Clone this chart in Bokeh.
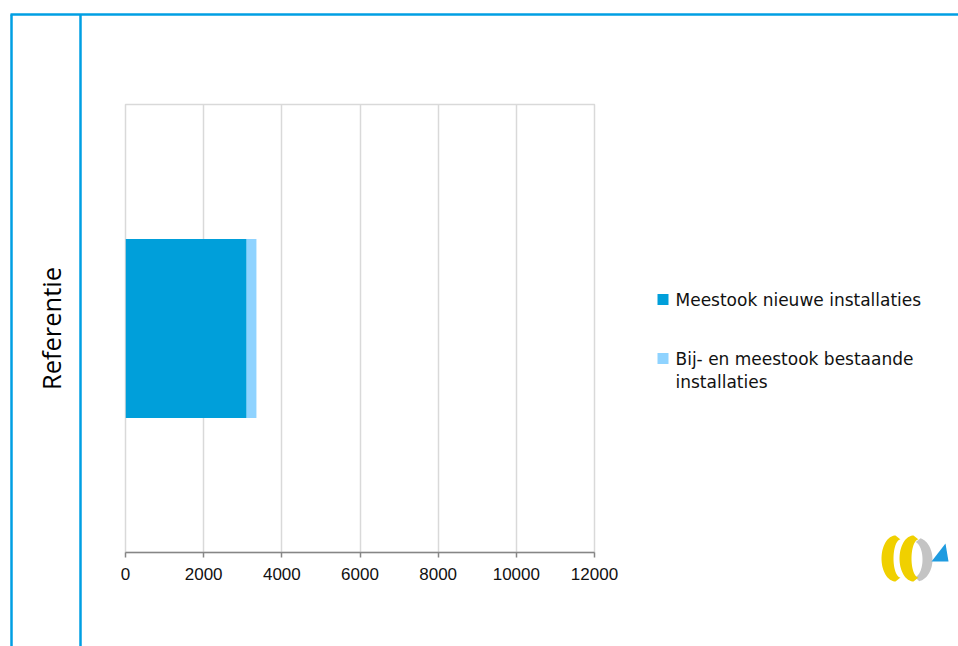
import textwrap
import numpy as np
from bokeh.plotting import figure
from bokeh.models import Range1d, FixedTicker, ColumnDataSource
from bokeh.core.properties import value
from bokeh.embed import file_html
from bokeh.resources import INLINE

# ---- data ----
categories = ["Referentie"]
series_names = ["Meestook nieuwe installaties", "Bij- en meestook bestaande installaties"]
meestook_nieuw = [3100]
bij_meestook_bestaand = [250]
series_colors = ["#009FDA", "#8FD3FF"]
x_ticks = [0, 2000, 4000, 6000, 8000, 10000, 12000]

W, H = 958, 646
FL, FT = 125, 104           # frame left / top on the canvas
FRX, FBY = 594, 552         # frame right / bottom on the canvas
FR, FB = W - FRX, H - FBY

cat_pos = [i + 0.5 for i in range(len(categories))]

p = figure(width=W, height=H,
           x_range=Range1d(0, 12000),
           y_range=Range1d(0, len(categories)),
           output_backend="svg", toolbar_location=None,
           min_border_left=FL, min_border_right=FR,
           min_border_top=FT, min_border_bottom=FB,
           background_fill_color="white", border_fill_color="white")

source = ColumnDataSource(dict(pos=cat_pos, a=meestook_nieuw, b=bij_meestook_bestaand))
p.hbar_stack(["a", "b"], y="pos", height=0.4, fill_color=series_colors,
             line_color=None, source=source)

# axes and grid
p.xaxis.ticker = FixedTicker(ticks=x_ticks)
p.xaxis.axis_line_color = "#868686"
p.xaxis.axis_line_width = 1.5
p.xaxis.major_tick_line_color = "#868686"
p.xaxis.major_tick_line_width = 1.5
p.xaxis.major_tick_out = 5
p.xaxis.major_tick_in = 0
p.xaxis.minor_tick_line_color = None
p.xaxis.major_label_text_font = "Liberation Sans"
p.xaxis.major_label_text_font_size = "17px"
p.xaxis.major_label_text_color = "#111111"
p.xaxis.major_label_standoff = 10

p.yaxis.ticker = FixedTicker(ticks=cat_pos, minor_ticks=[])
p.yaxis.major_label_overrides = {pos: c for pos, c in zip(cat_pos, categories)}
p.yaxis.axis_line_color = None
p.yaxis.major_tick_line_color = None
p.yaxis.minor_tick_line_color = None
p.yaxis.major_label_orientation = "vertical"
p.yaxis.major_label_text_font = "Open Sans"
p.yaxis.major_label_text_font_size = "25.5px"
p.yaxis.major_label_text_color = "#000000"
p.yaxis.major_label_standoff = 52

p.xgrid.ticker = FixedTicker(ticks=x_ticks)
p.xgrid.grid_line_color = "#D9D9D9"
p.xgrid.grid_line_width = 1.5
p.ygrid.grid_line_color = None
p.outline_line_color = "#D9D9D9"
p.outline_line_width = 1.5

# canvas-pixel ranges for decorations
p.extra_x_ranges = {"px": Range1d(FL, FRX)}
p.extra_y_ranges = {"py": Range1d(FBY, FT)}
deco = dict(x_range_name="px", y_range_name="py", level="overlay")

# slide frame lines
BLUE = "#009FE3"
p.segment(x0=[10, 11, 80], y0=[14, 14, 14], x1=[970, 11, 80], y1=[14, 700, 700],
          line_color=BLUE, line_width=2.5, **deco)

# legend swatches (squares) and texts
sw_y = [299, 358]
half = 5.5
for y, col in zip(sw_y, series_colors):
    p.patch(x=[657, 668, 668, 657], y=[y - half, y - half, y + half, y + half],
            fill_color=col, line_color=None, **deco)
tx, ty, tt = [], [], []
for name, base in zip(series_names, [299, 358]):
    for i, line in enumerate(textwrap.wrap(name, 28)):
        tx.append(675)
        ty.append(base + 23 * i)
        tt.append(line)
p.text(x=tx, y=ty, text=tt, text_baseline="alphabetic", text_align="left",
       text_font=value("DejaVu Sans"), text_font_size="17px", text_color="#111111", **deco)

# logo (decorative)
def crescent(cx, cy, ao, bo, ai, bi, dx, a0, a1, n=40):
    t = np.linspace(np.radians(a0), np.radians(a1), n)
    ox = cx + ao * np.cos(t)
    oy = cy - bo * np.sin(t)
    ix = cx + dx + ai * np.cos(t[::-1])
    iy = cy - bi * np.sin(t[::-1])
    return [float(v) for v in np.concatenate([ox, ix])], [float(v) for v in np.concatenate([oy, iy])]

g1 = crescent(916, 559, 16, 22, 9, 18, -3, -80, 75)
c1 = crescent(895, 558, 14, 23, 7, 19, 5, 90, 270)
c2 = crescent(913, 558, 14, 23, 7, 19, 5, 90, 270)
p.patch(x=g1[0], y=g1[1], fill_color="#C4C4C4", line_color=None, **deco)
for c in (c1, c2):
    p.patch(x=c[0], y=c[1], fill_color="#F0D000", line_color=None, **deco)
p.patch(x=[931, 948, 945], y=[561, 561, 543], fill_color="#1E9BE0", line_color=None, **deco)

open("out.html", "w").write(file_html(p, INLINE))
